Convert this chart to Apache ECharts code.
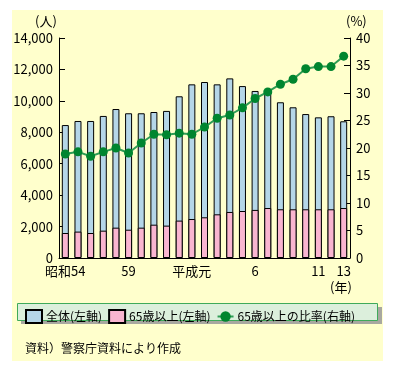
<!DOCTYPE html>
<html><head><meta charset="utf-8">
<script src="https://cdn.jsdelivr.net/npm/echarts@6/dist/echarts.min.js"></script>
<style>html,body{margin:0;padding:0;background:#fff}#c{width:394px;height:371px}</style>
</head><body><div id="c"></div>
<script>
const categories = ['昭和54','55','56','57','58','59','60','61','62','63','平成元','2','3','4','5','6','7','8','9','10','11','12','13'];
const shownLabels = ['昭和54','59','平成元','6','11','13'];
const totalValues = [8460,8720,8720,9040,9480,9210,9210,9290,9360,10290,11050,11200,11050,11430,10940,10630,10590,9910,9590,9160,8950,9020,8700];
const elderlyValues = [1590,1680,1590,1740,1930,1800,1930,2120,2060,2380,2480,2590,2780,2930,2990,3060,3180,3100,3100,3100,3100,3100,3180];
const ratioValues = [18.9,19.3,18.5,19.3,20.0,19.1,20.9,22.5,22.4,22.7,22.5,23.8,25.4,26.0,27.3,29.0,30.2,31.6,32.5,34.4,34.8,34.8,36.7];
const leftTicks = [0,2000,4000,6000,8000,10000,12000,14000];
const rightTicks = [0,5,10,15,20,25,30,35,40];

const FONT = '"Noto Sans CJK JP", sans-serif';
const chart = echarts.init(document.getElementById('c'), null, {renderer:'canvas'});
const shownIdx = categories.map((c,i)=>shownLabels.includes(c)?i:-1).filter(i=>i>=0);
chart.setOption({
  backgroundColor:'#ffffff',
  animation:false,
  textStyle:{fontFamily:FONT},
  graphic:[
    {type:'rect', z:-10, shape:{x:12,y:10,width:371,height:351}, style:{fill:'#ffffcc'}},
    {type:'rect', z:-5, shape:{x:21,y:307,width:361,height:17}, style:{fill:'#a8a8a0'}},
    {type:'rect', z:-4, shape:{x:17.5,y:303.5,width:360,height:17}, style:{fill:'#dcefdc', stroke:'#3faa5a', lineWidth:1}},
    {type:'text', left:35, top:15, style:{text:'(人)', font:'13px '+FONT, fill:'#000'}},
    {type:'text', left:346, top:15, style:{text:'(%)', font:'13px '+FONT, fill:'#000'}},
    {type:'text', left:330, top:281, style:{text:'(年)', font:'13px '+FONT, fill:'#000'}},
    {type:'text', left:25, top:342, style:{text:'資料）警察庁資料により作成', font:'12px '+FONT, fill:'#000'}}
  ],
  legend:{
    left:20, top:304, itemWidth:16, itemHeight:13, itemGap:6,
    textStyle:{fontSize:12, fontFamily:FONT, color:'#000', padding:[0,0,0,-1]},
    data:[
      {name:'全体(左軸)', icon:'rect'},
      {name:'65歳以上(左軸)', icon:'rect'},
      {name:'65歳以上の比率(右軸)'}
    ]
  },
  grid:{left:59, right:44, top:38, bottom:113},
  xAxis:{
    type:'category', data:categories, boundaryGap:true,
    axisLine:{lineStyle:{color:'#000', width:1}},
    axisTick:{inside:true, length:4, interval:0, lineStyle:{color:'#000'}},
    axisLabel:{interval:(i)=>shownIdx.includes(i), formatter:(v)=>v, color:'#000', fontSize:13, margin:7, fontFamily:FONT}
  },
  yAxis:[
    {type:'value', min:leftTicks[0], max:leftTicks[leftTicks.length-1], interval:2000,
     axisLine:{show:true, lineStyle:{color:'#000'}},
     axisTick:{show:true, inside:true, length:6, lineStyle:{color:'#000'}},
     splitLine:{show:false},
     axisLabel:{color:'#000', fontSize:13, margin:6, fontFamily:FONT, formatter:(v)=>v.toLocaleString('en-US')}},
    {type:'value', min:rightTicks[0], max:rightTicks[rightTicks.length-1], interval:5, position:'right',
     axisLine:{show:true, lineStyle:{color:'#000'}},
     axisTick:{show:true, inside:true, length:6, lineStyle:{color:'#000'}},
     splitLine:{show:false},
     axisLabel:{color:'#000', fontSize:13, margin:6, fontFamily:FONT}}
  ],
  series:[
    {name:'全体(左軸)', type:'bar', data:totalValues, barWidth:7, barGap:'-100%',
     itemStyle:{color:'#b5d6e8', borderColor:'#000', borderWidth:1}},
    {name:'65歳以上(左軸)', type:'bar', data:elderlyValues, barWidth:7, barGap:'-100%',
     itemStyle:{color:'#f9b5d0', borderColor:'#000', borderWidth:1}},
    {name:'65歳以上の比率(右軸)', type:'line', yAxisIndex:1, data:ratioValues,
     symbol:'circle', symbolSize:9, showAllSymbol:true,
     lineStyle:{color:'#2f9c55', width:2},
     itemStyle:{color:'#00852f', borderWidth:0}}
  ]
});
</script></body></html>
